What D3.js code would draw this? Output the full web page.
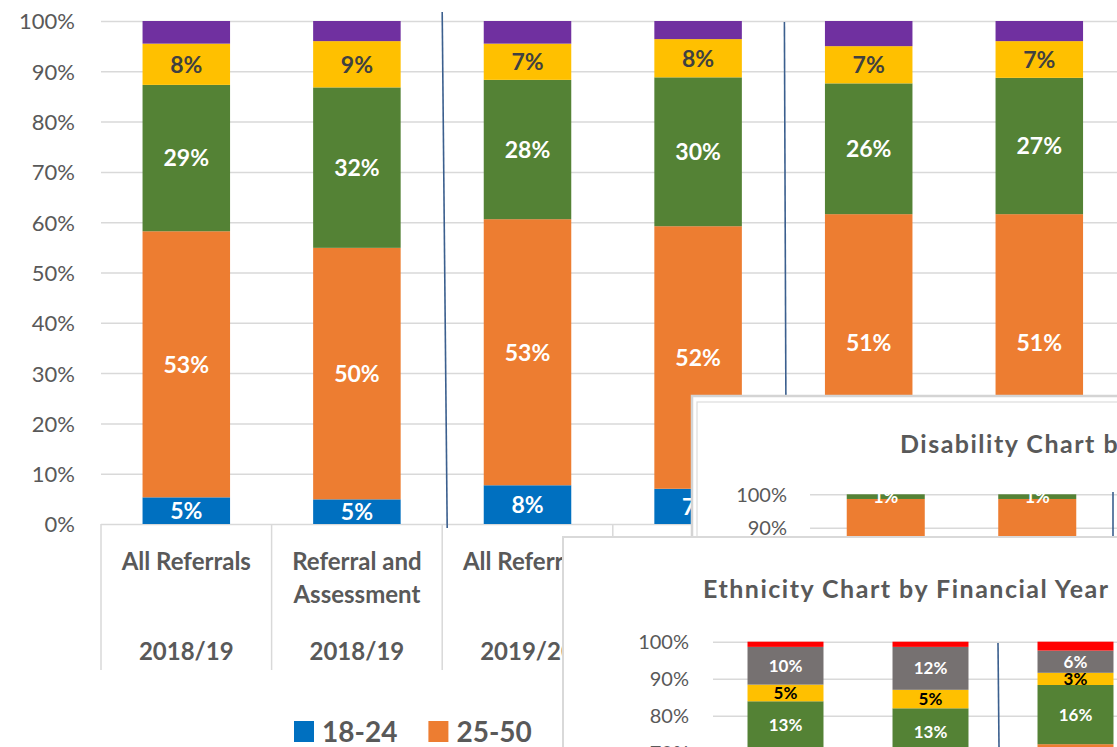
<!DOCTYPE html>
<html>
<head>
<meta charset="utf-8">
<script src="https://cdn.jsdelivr.net/npm/d3@7"></script>
<style>
body { margin: 0; background: #fff; }
svg { display: block; font-family: Lato, "Open Sans", sans-serif; }
</style>
</head>
<body>
<script>
var W = 1117, H = 747;

// main age chart
var categories = ["All Referrals", "Referral and Assessment", "All Referrals", "Referral and Assessment", "All Referrals", "Referral and Assessment"];
var years = ["2018/19", "2018/19", "2019/20", "2019/20", "2020/21", "2020/21"];
var ageGroups = ["18-24", "25-50", "51-64", "65+", "Not known"];
var age18_24 = [5.3, 4.9, 7.7, 7.0, 10.4, 10.6];
var age25_50 = [52.9, 50.0, 52.9, 52.2, 51.2, 51.0];
var age51_64 = [29.1, 31.9, 27.7, 29.6, 26.0, 27.1];
var age65plus = [8.2, 9.2, 7.2, 7.6, 7.4, 7.3];
var ageUnknown = [4.5, 4.0, 4.5, 3.6, 5.0, 4.0];
var ageColors = ["#0070C0", "#ED7D31", "#548235", "#FFC000", "#7030A0"];
var ageLabelColors = ["#fff", "#fff", "#fff", "#404040", null];

// disability inset
var disabilityTitle = "Disability Chart by Financial Year";
var disabilityGroups = ["No", "Not known"];
var disNo = [98.6, 98.6];
var disUnknown = [1.4, 1.4];
var disColors = ["#ED7D31", "#548235"];
var disLabelColors = ["#fff", "#fff"];

// ethnicity inset
var ethnicityTitle = "Ethnicity Chart by Financial Year";
var ethnicGroups = ["White", "Asian", "Mixed", "Other", "Not stated"];
var ethWhite = [70.9, 69.0, 72.3];
var ethAsian = [13.0, 13.0, 16.0];
var ethMixed = [4.5, 5.0, 3.3];
var ethOther = [10.2, 11.6, 6.0];
var ethNotStated = [1.4, 1.4, 2.4];
var ethColors = ["#ED7D31", "#548235", "#FFC000", "#767171", "#FF0000"];
var ethLabelColors = ["#fff", "#fff", "#000", "#fff", null];

var yTicks = [0, 0.1, 0.2, 0.3, 0.4, 0.5, 0.6, 0.7, 0.8, 0.9, 1];

var svg = d3.select("body")
            .append("svg")
            .attr("width", W)
            .attr("height", H);

// one 100% stacked column chart, used for the main chart and both insets
function stackChart(g, rows, keys, colors, labelColors, c) {
    var x = d3.scaleBand()
              .domain(d3.range(c.n))
              .range([c.left, c.left + c.n * c.step])
              .paddingInner(c.pad)
              .paddingOuter(c.pad / 2);
    var y = d3.scaleLinear()
              .domain([0, 1])
              .range([c.zero, c.full]);

    g.append("g")
     .attr("transform", "translate(" + c.left + ",0)")
     .call(d3.axisLeft(y)
             .tickValues(yTicks)
             .tickSize(-(W - c.left))
             .tickPadding(c.tickPad)
             .tickFormat(d3.format(".0%")))
     .call(function(a) {
         a.attr("font-family", null).attr("font-size", null);
         a.select(".domain").remove();
         a.selectAll("line").attr("stroke", "#d9d9d9").attr("stroke-width", 1.5);
         a.selectAll("text")
          .attr("fill", "#595959")
          .attr("dy", "0.36em")
          .style("font-size", c.axisFs + "px");
     });

    var series = d3.stack().keys(keys).offset(d3.stackOffsetExpand)(rows);

    g.selectAll(null)
     .data(series)
     .enter()
     .append("g")
     .attr("fill", function(d, i) { return colors[i]; })
     .selectAll("rect")
     .data(function(d) { return d; })
     .enter()
     .append("rect")
     .attr("x", function(d, i) { return x(i); })
     .attr("y", function(d) { return y(d[1]); })
     .attr("width", x.bandwidth())
     .attr("height", function(d) { return y(d[0]) - y(d[1]); });

    series.forEach(function(s, k) {
        if (!labelColors[k]) return;
        g.selectAll(null)
         .data(s)
         .enter()
         .append("text")
         .attr("x", function(d, i) { return x(i) + x.bandwidth() / 2; })
         .attr("y", function(d) { return y((d[0] + d[1]) / 2); })
         .attr("dy", "0.36em")
         .attr("text-anchor", "middle")
         .attr("fill", labelColors[k])
         .style("font-size", c.labelFs + "px")
         .style("font-weight", "bold")
         .text(function(d) { return Math.round(d.data[keys[k]]) + "%"; });
    });

    return { x: x, y: y };
}

function sepLine(g, x1, y1, x2, y2) {
    g.append("line")
     .attr("x1", x1).attr("y1", y1)
     .attr("x2", x2).attr("y2", y2)
     .attr("stroke", "#3B5F8E")
     .attr("stroke-width", 1.6);
}

// ---------- main chart
var ageRows = categories.map(function(c, i) {
    return { "18-24": age18_24[i], "25-50": age25_50[i], "51-64": age51_64[i],
             "65+": age65plus[i], "Not known": ageUnknown[i] };
});

var main = svg.append("g").attr("id", "mainChart");
var m = stackChart(main, ageRows, ageGroups, ageColors, ageLabelColors,
    { n: categories.length, left: 101, step: 170.6, pad: 0.487, zero: 524, full: 21,
      tickPad: 26, axisFs: 22, labelFs: 23 });

var x0 = m.x.range()[0], step = m.x.step(), axisY = m.y(0);

// category axis boxes
main.selectAll(".catSep")
    .data(d3.range(categories.length + 1))
    .enter()
    .append("line")
    .attr("class", "catSep")
    .attr("x1", function(i) { return x0 + i * step; })
    .attr("x2", function(i) { return x0 + i * step; })
    .attr("y1", axisY)
    .attr("y2", axisY + 146)
    .attr("stroke", "#d9d9d9")
    .attr("stroke-width", 1.5);

var catText = main.selectAll(".catLabel")
    .data(categories)
    .enter()
    .append("text")
    .attr("class", "catLabel")
    .attr("text-anchor", "middle")
    .attr("fill", "#595959")
    .style("font-size", "24px")
    .style("font-weight", "bold");

// wrap the long category names like excel does
catText.each(function(d, i) {
    var t = d3.select(this), cx = m.x(i) + m.x.bandwidth() / 2;
    var words = d.split(" "), line = [], lines = [];
    var probe = t.append("tspan");
    words.forEach(function(w) {
        line.push(w);
        probe.text(line.join(" "));
        if (probe.node().getComputedTextLength() > step * 0.88 && line.length > 1) {
            line.pop();
            lines.push(line.join(" "));
            line = [w];
        }
    });
    lines.push(line.join(" "));
    probe.remove();
    lines.forEach(function(l, j) {
        t.append("tspan")
         .attr("x", cx)
         .attr("y", axisY + 37 + j * 33)
         .attr("dy", "0.36em")
         .text(l);
    });
});

main.selectAll(".yearLabel")
    .data(years)
    .enter()
    .append("text")
    .attr("class", "yearLabel")
    .attr("x", function(d, i) { return m.x(i) + m.x.bandwidth() / 2; })
    .attr("y", axisY + 127)
    .attr("dy", "0.36em")
    .attr("text-anchor", "middle")
    .attr("fill", "#595959")
    .style("font-size", "24px")
    .style("font-weight", "bold")
    .text(function(d) { return d; });

// hand drawn year separators
sepLine(main, x0 + 2 * step, 12, x0 + 2 * step + 5, axisY + 4);
sepLine(main, x0 + 4 * step + 1, 22, x0 + 4 * step + 3, axisY + 4);

// legend (the entries after 25-50 sit under the ethnicity inset)
var legX = 294;
ageGroups.forEach(function(name, i) {
    var lg = main.append("g").attr("transform", "translate(" + legX + ",721)");
    lg.append("rect")
      .attr("width", 20)
      .attr("height", 21)
      .attr("fill", ageColors[i]);
    var t = lg.append("text")
      .attr("x", 28)
      .attr("y", 10.5)
      .attr("dy", "0.36em")
      .attr("fill", "#595959")
      .style("font-size", "28px")
      .style("font-weight", "bold")
      .text(name);
    legX += 28 + t.node().getComputedTextLength() + 31;
});

// ---------- disability inset (partly off screen)
var dis = svg.append("g").attr("id", "disabilityChart");
dis.append("rect")
   .attr("x", 692).attr("y", 396)
   .attr("width", 500).attr("height", 400)
   .attr("fill", "#fff")
   .attr("stroke", "#d4d4d4")
   .attr("stroke-width", 2.5);
dis.append("rect")
   .attr("x", 697).attr("y", 402)
   .attr("width", 500).attr("height", 400)
   .attr("fill", "none")
   .attr("stroke", "#dcdcdc")
   .attr("stroke-width", 1.2);
dis.append("text")
   .attr("x", 900)
   .attr("y", 453)
   .attr("fill", "#595959")
   .style("font-size", "25px")
   .style("font-weight", "bold")
   .style("letter-spacing", "1.5px")
   .text(disabilityTitle);

var disRows = disNo.map(function(v, i) {
    return { "No": disNo[i], "Not known": disUnknown[i] };
});
var dm = stackChart(dis, disRows, disabilityGroups, disColors, disLabelColors,
    { n: 6, left: 810, step: 151.5, pad: 0.485, zero: 828.3, full: 494.3,
      tickPad: 23, axisFs: 20, labelFs: 18 });
sepLine(dis, dm.x.range()[0] + 2 * dm.x.step(), 492, dm.x.range()[0] + 2 * dm.x.step(), 700);

// ---------- ethnicity inset (on top)
var eth = svg.append("g").attr("id", "ethnicityChart");
eth.append("rect")
   .attr("x", 563).attr("y", 537)
   .attr("width", 700).attr("height", 400)
   .attr("fill", "#fff")
   .attr("stroke", "#d9d9d9")
   .attr("stroke-width", 2);
eth.append("text")
   .attr("x", 703)
   .attr("y", 598)
   .attr("fill", "#595959")
   .style("font-size", "25px")
   .style("font-weight", "bold")
   .style("letter-spacing", "1.5px")
   .text(ethnicityTitle);

var ethRows = ethWhite.map(function(v, i) {
    return { "White": ethWhite[i], "Asian": ethAsian[i], "Mixed": ethMixed[i],
             "Other": ethOther[i], "Not stated": ethNotStated[i] };
});
var em = stackChart(eth, ethRows, ethnicGroups, ethColors, ethLabelColors,
    { n: 6, left: 713, step: 145, pad: 0.476, zero: 1011.7, full: 641.7,
      tickPad: 24, axisFs: 20, labelFs: 17 });
sepLine(eth, em.x.range()[0] + 2 * em.x.step() - 5, 643, em.x.range()[0] + 2 * em.x.step() - 4, H);
</script>
</body>
</html>
